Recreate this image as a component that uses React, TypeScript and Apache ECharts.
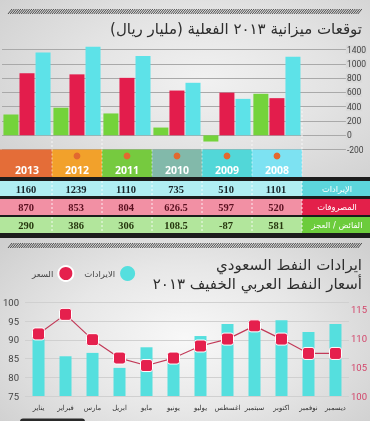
import React, { useEffect, useRef } from "react";
import * as echarts from "echarts";

// ---------- top chart / table data ----------
const years = ["2013", "2012", "2011", "2010", "2009", "2008"];
const revenue = [1160, 1239, 1110, 735, 510, 1101];
const expenses = [870, 853, 804, 626.5, 597, 520];
const surplus = [290, 386, 306, 108.5, -87, 581];
const yearHasDot = [false, true, true, true, true, true];
const topTickValues = [-200, 0, 200, 400, 600, 800, 1000, 1200];
const topTickLabels = ["-200", "0", "200", "400", "600", "800", "1000", "1400"];
const rowLabels = ["الإيرادات", "المصروفات", "الفائض / العجز"];

// ---------- bottom chart data ----------
const months = ["يناير", "فبراير", "مارس", "ابريل", "مايو", "يونيو", "يوليو", "اغسطس", "سبتمبر", "اكتوبر", "نوفمبر", "ديسمبر"];
const oilRevenue = [90.8, 85.6, 86.5, 82.5, 88.0, 85.5, 91.0, 94.2, 95.2, 95.2, 92.1, 94.2];
const oilPrice = [110.8, 114.2, 109.8, 106.6, 105.3, 106.6, 108.7, 109.9, 112.2, 109.9, 107.4, 107.4];

const topTitle = "\u200Fتوقعات ميزانية ٢٠١٣ الفعلية (مليار ريال)\u200F";
const bottomTitle1 = "\u200Fايرادات النفط السعودي\u200F";
const bottomTitle2 = "\u200Fأسعار النفط العربي الخفيف ٢٠١٣\u200F";
const legendNames = ["السعر", "الايرادات"];

// styles
const AR = "'DejaVu Sans', sans-serif";
const NARROW = "'Liberation Sans Narrow', 'Roboto', sans-serif";
const yearColors = ["#e46d38", "#f2a12b", "#76ca3f", "#82b9aa", "#52d7d8", "#7de2f2"];
const rowBg = ["#b0eef2", "#f290a4", "#b2e69c"];
const rowLabelBg = ["#5cd6dc", "#e3204a", "#6ccc3c"];
const rowTextColor = ["#18262a", "#5a1020", "#26360e"];
const markerPath = "path://M2.5,0 H9.5 A2.5,2.5 0 0 1 12,2.5 V9.5 A2.5,2.5 0 0 1 9.5,12 H2.5 A2.5,2.5 0 0 1 0,9.5 V2.5 A2.5,2.5 0 0 1 2.5,0 Z";

const COL_LEFT = 2;
const COL_W = 50;

function hatch(y0: number, y1: number) {
  const els: any[] = [];
  for (let x = 8; x < 358; x += 2.2) {
    els.push({
      type: "line",
      silent: true,
      z: 10,
      shape: { x1: x, y1: y1, x2: x + 4, y2: y0 },
      style: { stroke: "#3a3a3a", lineWidth: 0.9 },
    });
  }
  return els;
}

export default function App() {
  const ref = useRef<HTMLDivElement>(null);

  useEffect(() => {
    if (!ref.current) return;
    const chart = echarts.init(ref.current, null, { renderer: "svg" });

    const els: any[] = [];
    els.push(...hatch(9, 14));
    els.push(...hatch(243, 248));

    els.push({
      type: "text", z: 10,
      style: { text: topTitle, x: 362, y: 29, align: "right", verticalAlign: "middle", fontFamily: AR, fontSize: 15, fill: "#2e2e2e" },
    });
    els.push({
      type: "text", z: 10,
      style: { text: bottomTitle1, x: 362, y: 265, align: "right", verticalAlign: "middle", fontFamily: AR, fontSize: 15, fill: "#2e2e2e" },
    });
    els.push({
      type: "text", z: 10,
      style: { text: bottomTitle2, x: 362, y: 284, align: "right", verticalAlign: "middle", fontFamily: AR, fontSize: 15, fill: "#2e2e2e" },
    });

    // dark bands of table
    els.push({ type: "rect", z: 10, shape: { x: 0, y: 177, width: 370, height: 61 }, style: { fill: "#1c1c1c" } });

    const rowsY = [
      [181, 196],
      [199, 215],
      [217, 233],
    ];
    const rowValues = [revenue, expenses, surplus];

    years.forEach((yr, i) => {
      const x0 = i === 0 ? 0 : COL_LEFT + COL_W * i;
      const x1 = COL_LEFT + COL_W * (i + 1);
      const cx = COL_LEFT + COL_W * (i + 0.5);
      els.push({ type: "rect", z: 10, shape: { x: x0, y: 149.5, width: x1 - x0, height: 27.5 }, style: { fill: yearColors[i] } });
      if (yearHasDot[i]) {
        els.push({ type: "circle", z: 11, shape: { cx: cx, cy: 156, r: 3.4 }, style: { fill: "#e2692f" } });
      }
      els.push({
        type: "text", z: 11,
        style: { text: yr, x: cx, y: 169.5, align: "center", verticalAlign: "middle", fontFamily: "'Open Sans', sans-serif", fontWeight: "bold", fontSize: 10.5, fill: "#ffffff" },
      });
    });

    rowsY.forEach((r, k) => {
      els.push({ type: "rect", z: 10, shape: { x: 0, y: r[0], width: 302, height: r[1] - r[0] }, style: { fill: rowBg[k] } });
      els.push({ type: "rect", z: 10, shape: { x: 302, y: r[0], width: 68, height: r[1] - r[0] }, style: { fill: rowLabelBg[k] } });
      els.push({
        type: "text", z: 11,
        style: { text: "\u200F" + rowLabels[k] + "\u200F", x: 337, y: (r[0] + r[1]) / 2, align: "center", verticalAlign: "middle", fontFamily: AR, fontSize: 8.3, fill: "#ffffff" },
      });
      rowValues[k].forEach((v, i) => {
        const cx = COL_LEFT + COL_W * (i + 0.5) - 1;
        els.push({
          type: "text", z: 11,
          style: { text: String(v), x: cx, y: (r[0] + r[1]) / 2 + 0.5, align: "center", verticalAlign: "middle", fontFamily: "'Liberation Serif', serif", fontWeight: "bold", fontSize: 10.5, fill: rowTextColor[k] },
        });
      });
    });

    // dashed column separators
    const sepStart = [133, 107, 149.5, 140, 140, 107];
    for (let i = 1; i <= 6; i++) {
      const x = COL_LEFT + COL_W * i;
      const s = sepStart[i - 1];
      if (s < 149.5) {
        els.push({ type: "line", z: 1, silent: true, shape: { x1: x, y1: s, x2: x, y2: 149.5 }, style: { stroke: "#f6f6f6", lineWidth: 1, lineDash: [2, 2] } });
      }
      els.push({ type: "line", z: 12, silent: true, shape: { x1: x, y1: 149.5, x2: x, y2: 177 }, style: { stroke: "rgba(255,255,255,0.6)", lineWidth: 1, lineDash: [2, 2] } });
      rowsY.forEach((r) => {
        els.push({ type: "line", z: 12, silent: true, shape: { x1: x, y1: r[0], x2: x, y2: r[1] }, style: { stroke: "rgba(255,255,255,0.85)", lineWidth: 1, lineDash: [2, 2] } });
      });
    }

    // small dark tab at bottom
    els.push({ type: "rect", z: 10, shape: { x: 20, y: 418.5, width: 65, height: 4, r: [3, 3, 0, 0] }, style: { fill: "#2a2a2a" } });

    chart.setOption({
      animation: false,
      backgroundColor: "transparent",
      grid: [
        { left: COL_LEFT, width: COL_W * 7, top: 46, height: 103.6 },
        { left: 20, width: 335, top: 302.3, height: 93.7 },
      ],
      legend: {
        data: [
          { name: legendNames[0], icon: "circle" },
          { name: legendNames[1], icon: "circle" },
        ],
        left: 27,
        top: 260,
        align: "right",
        itemWidth: 15,
        itemHeight: 15,
        itemGap: 10,
        selectedMode: false,
        textStyle: { fontFamily: AR, fontSize: 8.5, color: "#444", padding: [0, 0, 5, 0] },
      },
      xAxis: [
        {
          gridIndex: 0,
          type: "category",
          data: [...years, ""],
          axisLine: { show: false },
          axisTick: { show: false },
          axisLabel: { show: false },
          splitLine: { show: false },
        },
        {
          gridIndex: 1,
          type: "category",
          data: months,
          axisLine: { show: false },
          axisTick: { show: false },
          axisLabel: { interval: 0, fontFamily: AR, fontSize: 6.8, color: "#333", margin: 8 },
          splitLine: { show: false },
        },
      ],
      yAxis: [
        {
          gridIndex: 0,
          type: "value",
          position: "right",
          min: -200,
          max: 1250,
          interval: 200,
          axisLine: { show: false },
          axisTick: { show: false },
          axisLabel: {
            margin: -6,
            fontFamily: NARROW,
            fontSize: 8.5,
            color: "#444",
            backgroundColor: "#d9d9d9",
            padding: [0, 1],
            formatter: (v: number) => {
              const i = topTickValues.indexOf(v);
              return i >= 0 ? topTickLabels[i] : "";
            },
          },
          splitLine: { show: true, showMaxLine: false, lineStyle: { color: "#a9a9a9", width: 1 } },
        },
        {
          gridIndex: 1,
          type: "value",
          position: "left",
          min: 75,
          max: 100,
          interval: 5,
          axisLine: { show: false },
          axisTick: { show: false },
          axisLabel: { margin: 6, fontFamily: NARROW, fontSize: 9.5, color: "#444" },
          splitLine: { show: true, lineStyle: { color: "#d0d0d0", width: 1 } },
        },
        {
          gridIndex: 1,
          type: "value",
          position: "right",
          min: 100,
          max: 116.3,
          interval: 5,
          axisLine: { show: false },
          axisTick: { show: false },
          axisLabel: {
            margin: 2,
            fontFamily: NARROW,
            fontSize: 9.5,
            color: "#d2456a",
            formatter: (v: number) => (Math.abs(v % 5) < 1e-6 ? String(v) : ""),
          },
          splitLine: { show: false },
        },
      ],
      series: [
        { type: "bar", name: "surplus", xAxisIndex: 0, yAxisIndex: 0, data: surplus, barWidth: 15, barGap: "7%", itemStyle: { color: "#74d33b" } },
        { type: "bar", name: "expenses", xAxisIndex: 0, yAxisIndex: 0, data: expenses, barWidth: 15, barGap: "7%", itemStyle: { color: "#e31d4c" } },
        { type: "bar", name: "revenue", xAxisIndex: 0, yAxisIndex: 0, data: revenue, barWidth: 15, barGap: "7%", itemStyle: { color: "#5de2e8" } },
        { type: "bar", name: legendNames[1], xAxisIndex: 1, yAxisIndex: 1, data: oilRevenue, barWidth: 12, itemStyle: { color: "#55dfde" } },
        {
          type: "line",
          name: legendNames[0],
          xAxisIndex: 1,
          yAxisIndex: 2,
          data: oilPrice,
          symbol: markerPath,
          symbolSize: 12,
          z: 5,
          itemStyle: { color: "#e5204d", borderColor: "#ffffff", borderWidth: 1 },
          lineStyle: { color: "#c23a58", width: 1.2 },
        },
      ],
      graphic: { elements: els },
    });

    return () => chart.dispose();
  }, []);

  return (
    <div style={{ position: "fixed", left: 0, top: 0, width: 370, height: 421, overflow: "hidden" }}>
      <div
        style={{
          position: "absolute", left: 0, top: 0, width: 370, height: 178,
          background: "radial-gradient(ellipse 70% 80% at 55% 45%, #f1f1f1 0%, #e3e3e3 50%, #d0d0d0 100%)",
        }}
      />
      <div
        style={{
          position: "absolute", left: 0, top: 238, width: 370, height: 183,
          background: "radial-gradient(ellipse 65% 80% at 50% 55%, #f8f8f8 0%, #e7e7e7 50%, #cfcfcf 100%)",
        }}
      />
      <div ref={ref} style={{ position: "absolute", left: 0, top: 0, width: 370, height: 421 }} />
    </div>
  );
}
